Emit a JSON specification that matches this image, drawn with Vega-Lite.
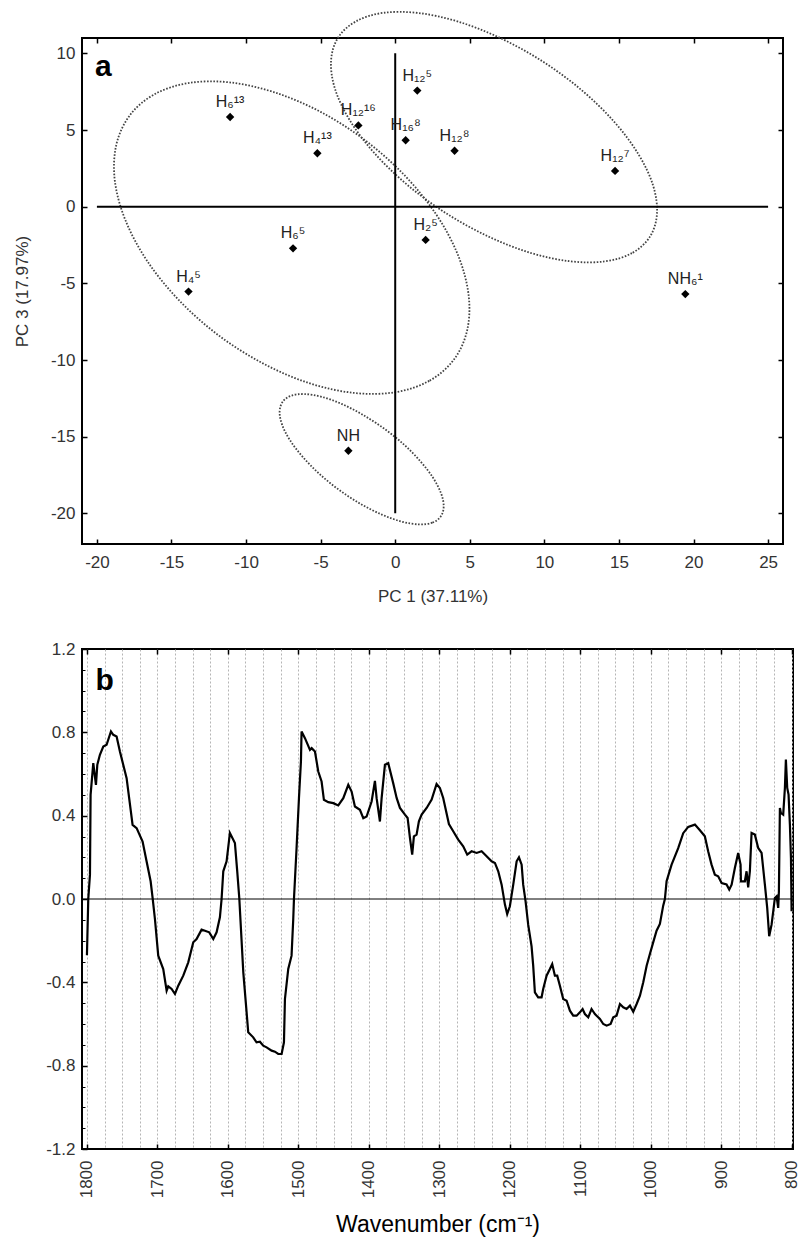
{
  "$schema": "https://vega.github.io/schema/vega-lite/v6.json",
  "padding": {"top": 7, "left": 12, "right": 0, "bottom": 0},
  "background": "white",
  "config": {
    "font": "Liberation Sans",
    "view": {"stroke": "black", "strokeWidth": 2},
    "concat": {"spacing": 34},
    "axis": {
      "domain": false, "grid": false, "tickColor": "black", "tickWidth": 1.5, "tickSize": -5,
      "labelFont": "Liberation Sans", "labelFontSize": 17, "labelColor": "#333",
      "labelExpr": "replace(datum.label, '\u2212', '-')",
      "titleFont": "Liberation Sans", "titleFontWeight": "normal", "titleColor": "#333", "titleFontSize": 17
    }
  },
  "datasets": {
    "ellipses": [
      {"g":1,"o":1,"ex":3.92,"ey":-9.99},{"g":1,"o":2,"ex":2.28,"ey":-11.36},{"g":1,"o":3,"ex":0.01,"ey":-12.10},{"g":1,"o":4,"ex":-2.74,"ey":-12.15},
      {"g":1,"o":5,"ex":-5.77,"ey":-11.51},{"g":1,"o":6,"ex":-8.87,"ey":-10.22},{"g":1,"o":7,"ex":-11.86,"ey":-8.38},{"g":1,"o":8,"ex":-14.50,"ey":-6.10},
      {"g":1,"o":9,"ex":-16.63,"ey":-3.54},{"g":1,"o":10,"ex":-18.09,"ey":-0.88},{"g":1,"o":11,"ex":-18.80,"ey":1.70},{"g":1,"o":12,"ex":-18.70,"ey":4.03},
      {"g":1,"o":13,"ex":-17.80,"ey":5.95},{"g":1,"o":14,"ex":-16.16,"ey":7.32},{"g":1,"o":15,"ex":-13.88,"ey":8.06},{"g":1,"o":16,"ex":-11.14,"ey":8.11},
      {"g":1,"o":17,"ex":-8.11,"ey":7.46},{"g":1,"o":18,"ex":-5.00,"ey":6.18},{"g":1,"o":19,"ex":-2.02,"ey":4.33},{"g":1,"o":20,"ex":0.62,"ey":2.05},
      {"g":1,"o":21,"ex":2.75,"ey":-0.51},{"g":1,"o":22,"ex":4.21,"ey":-3.16},{"g":1,"o":23,"ex":4.92,"ey":-5.75},{"g":1,"o":24,"ex":4.82,"ey":-8.08},
      {"g":2,"o":1,"ex":17.07,"ey":-1.97},{"g":2,"o":2,"ex":15.87,"ey":-3.03},{"g":2,"o":3,"ex":14.05,"ey":-3.57},{"g":2,"o":4,"ex":11.71,"ey":-3.56},
      {"g":2,"o":5,"ex":9.03,"ey":-3.00},{"g":2,"o":6,"ex":6.19,"ey":-1.92},{"g":2,"o":7,"ex":3.38,"ey":-0.41},{"g":2,"o":8,"ex":0.79,"ey":1.44},
      {"g":2,"o":9,"ex":-1.41,"ey":3.51},{"g":2,"o":10,"ex":-3.05,"ey":5.64},{"g":2,"o":11,"ex":-4.04,"ey":7.69},{"g":2,"o":12,"ex":-4.30,"ey":9.54},
      {"g":2,"o":13,"ex":-3.82,"ey":11.04},{"g":2,"o":14,"ex":-2.62,"ey":12.09},{"g":2,"o":15,"ex":-0.80,"ey":12.64},{"g":2,"o":16,"ex":1.54,"ey":12.63},
      {"g":2,"o":17,"ex":4.22,"ey":12.07},{"g":2,"o":18,"ex":7.06,"ey":10.99},{"g":2,"o":19,"ex":9.87,"ey":9.48},{"g":2,"o":20,"ex":12.46,"ey":7.63},
      {"g":2,"o":21,"ex":14.66,"ey":5.56},{"g":2,"o":22,"ex":16.30,"ey":3.43},{"g":2,"o":23,"ex":17.29,"ey":1.38},{"g":2,"o":24,"ex":17.55,"ey":-0.47},
      {"g":3,"o":1,"ex":3.04,"ey":-20.22},{"g":3,"o":2,"ex":2.48,"ey":-20.61},{"g":3,"o":3,"ex":1.59,"ey":-20.72},{"g":3,"o":4,"ex":0.43,"ey":-20.54},
      {"g":3,"o":5,"ex":-0.90,"ey":-20.08},{"g":3,"o":6,"ex":-2.33,"ey":-19.38},{"g":3,"o":7,"ex":-3.75,"ey":-18.48},{"g":3,"o":8,"ex":-5.07,"ey":-17.44},
      {"g":3,"o":9,"ex":-6.19,"ey":-16.33},{"g":3,"o":10,"ex":-7.05,"ey":-15.24},{"g":3,"o":11,"ex":-7.58,"ey":-14.23},{"g":3,"o":12,"ex":-7.75,"ey":-13.37},
      {"g":3,"o":13,"ex":-7.54,"ey":-12.72},{"g":3,"o":14,"ex":-6.98,"ey":-12.33},{"g":3,"o":15,"ex":-6.09,"ey":-12.22},{"g":3,"o":16,"ex":-4.94,"ey":-12.40},
      {"g":3,"o":17,"ex":-3.60,"ey":-12.86},{"g":3,"o":18,"ex":-2.18,"ey":-13.57},{"g":3,"o":19,"ex":-0.75,"ey":-14.47},{"g":3,"o":20,"ex":0.57,"ey":-15.50},
      {"g":3,"o":21,"ex":1.69,"ey":-16.61},{"g":3,"o":22,"ex":2.55,"ey":-17.70},{"g":3,"o":23,"ex":3.08,"ey":-18.71},{"g":3,"o":24,"ex":3.25,"ey":-19.57}
    ],
    "samples": [
      {"pc1":-11.07,"pc3":5.85,"label":"H₆¹³"},
      {"pc1":-5.22,"pc3":3.48,"label":"H₄¹³"},
      {"pc1":-2.47,"pc3":5.30,"label":"H₁₂¹⁶"},
      {"pc1":1.48,"pc3":7.57,"label":"H₁₂⁵"},
      {"pc1":0.70,"pc3":4.33,"label":"H₁₆⁸"},
      {"pc1":3.98,"pc3":3.65,"label":"H₁₂⁸"},
      {"pc1":14.74,"pc3":2.33,"label":"H₁₂⁷"},
      {"pc1":-6.85,"pc3":-2.72,"label":"H₆⁵"},
      {"pc1":2.04,"pc3":-2.17,"label":"H₂⁵"},
      {"pc1":-13.86,"pc3":-5.54,"label":"H₄⁵"},
      {"pc1":19.45,"pc3":-5.70,"label":"NH₆¹"},
      {"pc1":-3.14,"pc3":-15.92,"label":"NH"}
    ],
    "spectrum": [
      {"w":1800.0,"v":-0.27},{"w":1798.1,"v":0.0},{"w":1795.7,"v":0.117},{"w":1794.8,"v":0.50},{"w":1791.0,"v":0.652},
      {"w":1787.2,"v":0.548},{"w":1785.3,"v":0.644},{"w":1781.6,"v":0.692},{"w":1776.8,"v":0.732},{"w":1772.1,"v":0.740},
      {"w":1765.9,"v":0.804},{"w":1762.6,"v":0.788},{"w":1757.9,"v":0.780},{"w":1753.2,"v":0.708},{"w":1743.7,"v":0.580},
      {"w":1735.2,"v":0.356},{"w":1729.5,"v":0.340},{"w":1721.0,"v":0.276},{"w":1715.3,"v":0.180},{"w":1709.6,"v":0.085},
      {"w":1706.8,"v":0.005},{"w":1703.5,"v":-0.096},{"w":1698.8,"v":-0.272},{"w":1691.7,"v":-0.336},{"w":1686.9,"v":-0.44},
      {"w":1684.6,"v":-0.419},{"w":1679.8,"v":-0.432},{"w":1675.1,"v":-0.456},{"w":1670.4,"v":-0.416},{"w":1663.3,"v":-0.368},
      {"w":1656.2,"v":-0.304},{"w":1649.1,"v":-0.208},{"w":1644.4,"v":-0.192},{"w":1637.3,"v":-0.147},{"w":1632.5,"v":-0.152},
      {"w":1626.4,"v":-0.16},{"w":1620.7,"v":-0.192},{"w":1616.0,"v":-0.16},{"w":1611.3,"v":-0.088},{"w":1608.9,"v":0.0},
      {"w":1606.5,"v":0.133},{"w":1601.8,"v":0.181},{"w":1597.1,"v":0.317},{"w":1590.0,"v":0.269},{"w":1586.7,"v":0.133},
      {"w":1583.8,"v":0.005},{"w":1578.1,"v":-0.352},{"w":1573.4,"v":-0.544},{"w":1571.1,"v":-0.64},{"w":1564.0,"v":-0.664},
      {"w":1559.3,"v":-0.688},{"w":1554.5,"v":-0.685},{"w":1549.8,"v":-0.704},{"w":1545.0,"v":-0.712},{"w":1537.9,"v":-0.728},
      {"w":1533.2,"v":-0.733},{"w":1528.5,"v":-0.744},{"w":1523.7,"v":-0.744},{"w":1520.4,"v":-0.688},{"w":1519.0,"v":-0.48},
      {"w":1514.3,"v":-0.336},{"w":1509.6,"v":-0.272},{"w":1507.2,"v":-0.096},{"w":1506.2,"v":0.0},{"w":1502.5,"v":0.245},
      {"w":1499.1,"v":0.485},{"w":1496.3,"v":0.66},{"w":1495.4,"v":0.804},{"w":1490.6,"v":0.772},{"w":1483.5,"v":0.716},
      {"w":1481.1,"v":0.724},{"w":1476.4,"v":0.708},{"w":1471.7,"v":0.612},{"w":1467.0,"v":0.564},{"w":1463.7,"v":0.476},
      {"w":1457.5,"v":0.465},{"w":1450.4,"v":0.46},{"w":1443.3,"v":0.449},{"w":1436.2,"v":0.484},{"w":1429.1,"v":0.548},
      {"w":1424.4,"v":0.516},{"w":1419.7,"v":0.444},{"w":1412.6,"v":0.428},{"w":1407.8,"v":0.388},{"w":1403.1,"v":0.396},
      {"w":1396.0,"v":0.468},{"w":1391.3,"v":0.567},{"w":1388.9,"v":0.484},{"w":1384.2,"v":0.372},{"w":1381.8,"v":0.484},
      {"w":1377.1,"v":0.644},{"w":1372.4,"v":0.652},{"w":1365.3,"v":0.555},{"w":1360.5,"v":0.485},{"w":1355.8,"v":0.437},
      {"w":1348.7,"v":0.405},{"w":1344.9,"v":0.389},{"w":1341.6,"v":0.293},{"w":1338.4,"v":0.213},{"w":1336.0,"v":0.301},
      {"w":1332.2,"v":0.309},{"w":1328.9,"v":0.373},{"w":1325.0,"v":0.405},{"w":1317.9,"v":0.437},{"w":1310.8,"v":0.477},
      {"w":1303.8,"v":0.552},{"w":1299.1,"v":0.533},{"w":1294.4,"v":0.485},{"w":1286.3,"v":0.360},{"w":1280.2,"v":0.325},
      {"w":1273.1,"v":0.285},{"w":1266.0,"v":0.253},{"w":1260.3,"v":0.213},{"w":1254.1,"v":0.229},{"w":1247.0,"v":0.221},
      {"w":1239.9,"v":0.229},{"w":1232.8,"v":0.205},{"w":1225.7,"v":0.181},{"w":1221.0,"v":0.173},{"w":1216.3,"v":0.133},
      {"w":1211.5,"v":0.069},{"w":1206.8,"v":-0.027},{"w":1203.6,"v":-0.072},{"w":1199.8,"v":-0.035},{"w":1195.0,"v":0.069},
      {"w":1190.2,"v":0.181},{"w":1186.9,"v":0.2},{"w":1183.1,"v":0.165},{"w":1180.9,"v":0.069},{"w":1177.5,"v":-0.011},
      {"w":1173.8,"v":-0.123},{"w":1169.0,"v":-0.227},{"w":1166.7,"v":-0.32},{"w":1164.3,"v":-0.448},{"w":1159.6,"v":-0.472},
      {"w":1154.8,"v":-0.472},{"w":1152.5,"v":-0.432},{"w":1147.7,"v":-0.368},{"w":1143.0,"v":-0.336},{"w":1139.7,"v":-0.312},
      {"w":1135.9,"v":-0.368},{"w":1132.6,"v":-0.368},{"w":1128.8,"v":-0.416},{"w":1124.1,"v":-0.48},{"w":1119.3,"v":-0.488},
      {"w":1114.6,"v":-0.536},{"w":1109.9,"v":-0.56},{"w":1105.1,"v":-0.56},{"w":1100.4,"v":-0.544},{"w":1096.6,"v":-0.528},
      {"w":1093.3,"v":-0.552},{"w":1088.6,"v":-0.568},{"w":1083.9,"v":-0.528},{"w":1079.1,"v":-0.552},{"w":1076.7,"v":-0.56},
      {"w":1072.0,"v":-0.576},{"w":1067.3,"v":-0.6},{"w":1062.5,"v":-0.608},{"w":1056.8,"v":-0.6},{"w":1053.1,"v":-0.568},
      {"w":1048.4,"v":-0.56},{"w":1043.6,"v":-0.504},{"w":1038.9,"v":-0.52},{"w":1034.2,"v":-0.528},{"w":1029.4,"v":-0.512},
      {"w":1024.7,"v":-0.541},{"w":1019.9,"v":-0.504},{"w":1015.2,"v":-0.464},{"w":1010.5,"v":-0.4},{"w":1005.7,"v":-0.32},
      {"w":1001.1,"v":-0.264},{"w":996.4,"v":-0.208},{"w":991.6,"v":-0.152},{"w":986.9,"v":-0.12},{"w":982.2,"v":-0.032},
      {"w":979.8,"v":0.0},{"w":977.4,"v":0.085},{"w":970.3,"v":0.165},{"w":960.9,"v":0.244},{"w":953.8,"v":0.316},
      {"w":946.7,"v":0.346},{"w":937.2,"v":0.357},{"w":930.1,"v":0.330},{"w":923.1,"v":0.301},{"w":918.4,"v":0.229},
      {"w":913.6,"v":0.165},{"w":908.9,"v":0.117},{"w":904.2,"v":0.109},{"w":899.3,"v":0.077},{"w":892.3,"v":0.070},
      {"w":888.5,"v":0.045},{"w":885.1,"v":0.069},{"w":880.5,"v":0.149},{"w":875.8,"v":0.221},{"w":872.4,"v":0.165},
      {"w":871.9,"v":0.085},{"w":866.3,"v":0.085},{"w":863.9,"v":0.133},{"w":861.6,"v":0.056},{"w":859.2,"v":0.133},
      {"w":856.8,"v":0.317},{"w":852.1,"v":0.309},{"w":847.4,"v":0.245},{"w":842.6,"v":0.221},{"w":837.9,"v":0.069},
      {"w":834.6,"v":-0.043},{"w":831.8,"v":-0.179},{"w":828.4,"v":-0.123},{"w":823.7,"v":0.005},{"w":821.3,"v":0.013},
      {"w":819.0,"v":-0.043},{"w":818.0,"v":0.037},{"w":816.6,"v":0.437},{"w":815.2,"v":0.413},{"w":811.9,"v":0.405},
      {"w":809.5,"v":0.533},{"w":808.1,"v":0.669},{"w":806.2,"v":0.533},{"w":804.3,"v":0.501},{"w":802.4,"v":0.357},
      {"w":800.9,"v":0.197},{"w":800.0,"v":-0.059}
    ]
  },
  "vconcat": [
    {
      "width": 701,
      "height": 506,
      "layer": [
        {
          "data": {"name": "ellipses"},
          "mark": {"type": "line", "interpolate": "cardinal-closed", "stroke": "#444", "strokeWidth": 1.8, "strokeDash": [1.6, 1.6]},
          "encoding": {
            "x": {"field": "ex", "type": "quantitative", "scale": {"domain": [-21, 26], "nice": false, "zero": false},
                  "axis": {"values": [-20,-15,-10,-5,0,5,10,15,20,25], "title": "PC 1 (37.11%)", "labelPadding": 15, "titlePadding": 18}},
            "y": {"field": "ey", "type": "quantitative", "scale": {"domain": [-22, 11], "nice": false, "zero": false},
                  "axis": {"values": [-20,-15,-10,-5,0,5,10], "title": "PC 3 (17.97%)", "labelPadding": 12, "titlePadding": 19}},
            "detail": {"field": "g", "type": "nominal"},
            "order": {"field": "o", "type": "quantitative"}
          }
        },
        {
          "data": {"values": [{}]},
          "mark": {"type": "rule", "color": "black", "strokeWidth": 2},
          "encoding": {
            "x": {"datum": -20, "type": "quantitative", "scale": {"domain": [-21, 26], "nice": false, "zero": false}, "axis": null},
            "x2": {"datum": 25},
            "y": {"datum": 0, "type": "quantitative", "scale": {"domain": [-22, 11], "nice": false, "zero": false}, "axis": null}
          }
        },
        {
          "data": {"values": [{}]},
          "mark": {"type": "rule", "color": "black", "strokeWidth": 2},
          "encoding": {
            "x": {"datum": 0, "type": "quantitative", "scale": {"domain": [-21, 26], "nice": false, "zero": false}, "axis": null},
            "y": {"datum": -20, "type": "quantitative", "scale": {"domain": [-22, 11], "nice": false, "zero": false}, "axis": null},
            "y2": {"datum": 10}
          }
        },
        {
          "data": {"name": "samples"},
          "mark": {"type": "point", "shape": "diamond", "filled": true, "color": "black", "size": 70, "opacity": 1},
          "encoding": {
            "x": {"field": "pc1", "type": "quantitative", "scale": {"domain": [-21, 26], "nice": false, "zero": false},
                  "axis": {"orient": "top", "values": [-20,-15,-10,-5,0,5,10,15,20,25], "labels": false, "title": null}},
            "y": {"field": "pc3", "type": "quantitative", "scale": {"domain": [-22, 11], "nice": false, "zero": false}, "axis": null}
          }
        },
        {
          "data": {"name": "samples"},
          "mark": {"type": "text", "align": "center", "baseline": "alphabetic", "dy": -10, "fontSize": 16, "color": "#222", "font": "Liberation Sans"},
          "encoding": {
            "x": {"field": "pc1", "type": "quantitative", "scale": {"domain": [-21, 26], "nice": false, "zero": false}, "axis": null},
            "y": {"field": "pc3", "type": "quantitative", "scale": {"domain": [-22, 11], "nice": false, "zero": false},
                  "axis": {"orient": "right", "values": [-20,-15,-10,-5,0,5,10], "labels": false, "title": null}},
            "text": {"field": "label"}
          }
        },
        {
          "data": {"values": [{"x": -20.13, "y": 8.55, "t": "a"}]},
          "mark": {"type": "text", "align": "left", "baseline": "alphabetic", "fontSize": 30, "fontWeight": "bold", "color": "black", "font": "Liberation Sans"},
          "encoding": {
            "x": {"field": "x", "type": "quantitative", "scale": {"domain": [-21, 26], "nice": false, "zero": false}, "axis": null},
            "y": {"field": "y", "type": "quantitative", "scale": {"domain": [-22, 11], "nice": false, "zero": false}, "axis": null},
            "text": {"field": "t"}
          }
        }
      ],
      "resolve": {"axis": {"x": "independent", "y": "independent"}}
    },
    {
      "width": 711,
      "height": 500,
      "layer": [
        {
          "data": {"name": "spectrum"},
          "mark": {"type": "line", "color": "black", "strokeWidth": 2.2, "interpolate": "linear"},
          "encoding": {
            "x": {"field": "w", "type": "quantitative", "scale": {"domain": [798, 1807], "reverse": true, "nice": false, "zero": false},
                  "axis": {
                    "values": [1800,1775,1750,1725,1700,1675,1650,1625,1600,1575,1550,1525,1500,1475,1450,1425,1400,1375,1350,1325,1300,1275,1250,1225,1200,1175,1150,1125,1100,1075,1050,1025,1000,975,950,925,900,875,850,825,800],
                    "labelExpr": "datum.value % 100 === 0 ? datum.label : ''",
                    "labelOverlap": false,
                    "format": "d",
                    "labelAngle": -90,
                    "labelPadding": 16,
                    "grid": true, "gridDash": [2, 2], "gridColor": "#b5b5b5", "gridWidth": 1,
                    "tickOpacity": {"condition": {"test": "datum.value % 100 === 0", "value": 1}, "value": 0},
                    "title": "Wavenumber (cm⁻¹)", "titleFontSize": 23, "titleColor": "black", "titlePadding": 16
                  }},
            "y": {"field": "v", "type": "quantitative", "scale": {"domain": [-1.2, 1.2], "nice": false, "zero": false},
                  "axis": {"values": [-1.2,-0.8,-0.4,0,0.4,0.8,1.2], "format": ".1f", "labelPadding": 12, "title": null}}
          }
        },
        {
          "data": {"values": [{}]},
          "mark": {"type": "rule", "color": "black", "strokeWidth": 1},
          "encoding": {
            "y": {"datum": 0, "type": "quantitative", "scale": {"domain": [-1.2, 1.2], "nice": false, "zero": false}, "axis": null}
          }
        },
        {
          "data": {"values": [{"w": 1787.7, "v": 1.004, "t": "b"}]},
          "mark": {"type": "text", "align": "left", "baseline": "alphabetic", "fontSize": 30, "fontWeight": "bold", "color": "black", "font": "Liberation Sans"},
          "encoding": {
            "x": {"field": "w", "type": "quantitative", "scale": {"domain": [798, 1807], "reverse": true, "nice": false, "zero": false},
                  "axis": {"orient": "top", "values": [1800,1700,1600,1500,1400,1300,1200,1100,1000,900,800], "labels": false, "title": null}},
            "y": {"field": "v", "type": "quantitative", "scale": {"domain": [-1.2, 1.2], "nice": false, "zero": false},
                  "axis": {"orient": "left", "values": [-1.1,-1.0,-0.9,-0.7,-0.6,-0.5,-0.3,-0.2,-0.1,0.1,0.2,0.3,0.5,0.6,0.7,0.9,1.0,1.1], "labels": false, "title": null, "tickSize": -3, "tickWidth": 1}},
            "text": {"field": "t"}
          }
        }
      ],
      "resolve": {"axis": {"x": "independent", "y": "independent"}}
    }
  ]
}
